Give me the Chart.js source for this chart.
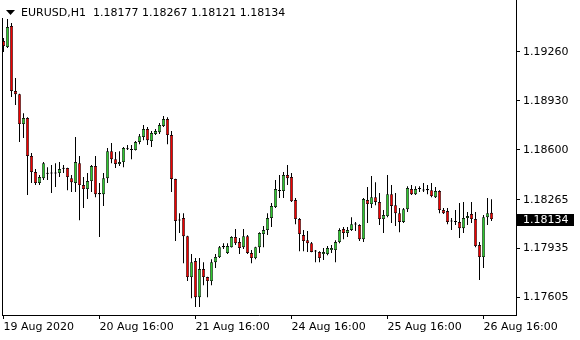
<!DOCTYPE html>
<html>
<head>
<meta charset="utf-8">
<script src="https://cdn.jsdelivr.net/npm/chart.js@4.4.0/dist/chart.umd.min.js"></script>
<style>
  html, body { margin: 0; padding: 0; background: #fff; }
  #wrap { width: 580px; height: 340px; }
</style>
</head>
<body>
<div id="wrap"><canvas id="chart" width="580" height="340"></canvas></div>
<script>
const SYMBOL = 'EURUSD,H1';

// hourly bars, 19 Aug 16:00 .. 26 Aug 18:00
const OPEN = [
  1.19334, 1.19293, 1.19435, 1.18997, 1.18976, 1.18774, 1.18815, 1.18559, 1.18451, 1.18377,
  1.18410, 1.18444, 1.18442, 1.18444, 1.18444, 1.18474, 1.18478, 1.18410, 1.18377, 1.18511,
  1.18363, 1.18336, 1.18390, 1.18491, 1.18309, 1.18302, 1.18410, 1.18592, 1.18538, 1.18505,
  1.18518, 1.18604, 1.18603, 1.18599, 1.18653, 1.18687, 1.18741, 1.18660, 1.18707, 1.18720,
  1.18761, 1.18808, 1.18700, 1.18404, 1.18127, 1.18141, 1.18019, 1.17743, 1.17851, 1.17608,
  1.17797, 1.17743, 1.17716, 1.17844, 1.17878, 1.17945, 1.17905, 1.17945, 1.18013, 1.17979,
  1.17945, 1.18019, 1.17905, 1.17871, 1.17945, 1.18033, 1.18060, 1.18141, 1.18215, 1.18329,
  1.18323, 1.18431, 1.18417, 1.18262, 1.18134, 1.18026, 1.17992, 1.17972, 1.17918, 1.17912,
  1.17898, 1.17898, 1.17925, 1.17925, 1.17979, 1.18067, 1.18040, 1.18060, 1.18100, 1.18094,
  1.17999, 1.18262, 1.18235, 1.18282, 1.18249, 1.18134, 1.18154, 1.18302, 1.18228, 1.18174,
  1.18114, 1.18201, 1.18336, 1.18302, 1.18336, 1.18329, 1.18336, 1.18329, 1.18282, 1.18323,
  1.18195, 1.18188, 1.18121, 1.18114, 1.18114, 1.18073, 1.18141, 1.18168, 1.18134, 1.17959,
  1.17878, 1.18147, 1.18177
];
const HIGH = [
  1.19354, 1.19482, 1.19455, 1.19084, 1.18978, 1.18848, 1.18821, 1.18579, 1.18471, 1.18431,
  1.18518, 1.18484, 1.18498, 1.18511, 1.18518, 1.18498, 1.18480, 1.18431, 1.18687, 1.18559,
  1.18417, 1.18444, 1.18498, 1.18559, 1.18377, 1.18444, 1.18613, 1.18646, 1.18586, 1.18592,
  1.18619, 1.18633, 1.18633, 1.18660, 1.18707, 1.18768, 1.18754, 1.18727, 1.18741, 1.18781,
  1.18828, 1.18821, 1.18727, 1.18406, 1.18174, 1.18174, 1.18021, 1.17898, 1.17871, 1.17871,
  1.17844, 1.17745, 1.17864, 1.17898, 1.17952, 1.17972, 1.17972, 1.18019, 1.18067, 1.18006,
  1.18067, 1.18026, 1.17925, 1.17947, 1.18046, 1.18087, 1.18174, 1.18242, 1.18397, 1.18431,
  1.18451, 1.18498, 1.18444, 1.18276, 1.18141, 1.18060, 1.18053, 1.17979, 1.17925, 1.17918,
  1.17939, 1.17952, 1.17959, 1.17992, 1.18073, 1.18080, 1.18080, 1.18147, 1.18114, 1.18100,
  1.18276, 1.18350, 1.18424, 1.18383, 1.18309, 1.18195, 1.18431, 1.18363, 1.18309, 1.18208,
  1.18208, 1.18356, 1.18363, 1.18356, 1.18356, 1.18377, 1.18363, 1.18377, 1.18350, 1.18329,
  1.18208, 1.18208, 1.18141, 1.18195, 1.18242, 1.18249, 1.18181, 1.18249, 1.18181, 1.17979,
  1.18161, 1.18276, 1.18267
];
const LOW = [
  1.19260, 1.19287, 1.18956, 1.18902, 1.18653, 1.18680, 1.18296, 1.18377, 1.18363, 1.18363,
  1.18397, 1.18397, 1.18309, 1.18350, 1.18417, 1.18444, 1.18329, 1.18316, 1.18316, 1.18127,
  1.18208, 1.18269, 1.18316, 1.18282, 1.18013, 1.18222, 1.18377, 1.18511, 1.18478, 1.18491,
  1.18484, 1.18599, 1.18538, 1.18597, 1.18639, 1.18666, 1.18633, 1.18619, 1.18700, 1.18707,
  1.18754, 1.18639, 1.18316, 1.17986, 1.18040, 1.17837, 1.17716, 1.17601, 1.17541, 1.17541,
  1.17689, 1.17608, 1.17689, 1.17804, 1.17871, 1.17932, 1.17898, 1.17943, 1.17959, 1.17898,
  1.17932, 1.17898, 1.17837, 1.17864, 1.17905, 1.17945, 1.18026, 1.18080, 1.18208, 1.18276,
  1.18276, 1.18363, 1.18249, 1.18100, 1.17918, 1.17918, 1.17912, 1.17910, 1.17844, 1.17844,
  1.17858, 1.17891, 1.17905, 1.17844, 1.17972, 1.17999, 1.18013, 1.18053, 1.18053, 1.17986,
  1.17979, 1.18107, 1.18208, 1.18228, 1.18094, 1.18040, 1.18147, 1.18107, 1.18087, 1.18046,
  1.18107, 1.18181, 1.18296, 1.18296, 1.18316, 1.18316, 1.18302, 1.18282, 1.18276, 1.18174,
  1.18168, 1.18100, 1.18060, 1.18094, 1.18006, 1.18040, 1.18094, 1.18107, 1.17945, 1.17723,
  1.17804, 1.18094, 1.18121
];
const CLOSE = [
  1.19300, 1.19428, 1.18997, 1.18976, 1.18774, 1.18815, 1.18559, 1.18451, 1.18377, 1.18417,
  1.18511, 1.18440, 1.18446, 1.18441, 1.18471, 1.18478, 1.18417, 1.18383, 1.18518, 1.18363,
  1.18336, 1.18390, 1.18491, 1.18302, 1.18302, 1.18410, 1.18592, 1.18538, 1.18505, 1.18518,
  1.18613, 1.18608, 1.18599, 1.18653, 1.18693, 1.18741, 1.18666, 1.18714, 1.18727, 1.18768,
  1.18808, 1.18700, 1.18404, 1.18121, 1.18124, 1.18019, 1.17743, 1.17844, 1.17608, 1.17797,
  1.17743, 1.17716, 1.17844, 1.17878, 1.17945, 1.17952, 1.17952, 1.18013, 1.17972, 1.17939,
  1.18019, 1.17905, 1.17871, 1.17945, 1.18040, 1.18060, 1.18141, 1.18222, 1.18336, 1.18323,
  1.18431, 1.18410, 1.18255, 1.18134, 1.18033, 1.17986, 1.17972, 1.17912, 1.17915, 1.17871,
  1.17912, 1.17939, 1.17939, 1.17979, 1.18060, 1.18040, 1.18060, 1.18100, 1.18097, 1.17999,
  1.18269, 1.18235, 1.18282, 1.18249, 1.18134, 1.18161, 1.18302, 1.18222, 1.18174, 1.18114,
  1.18201, 1.18343, 1.18302, 1.18336, 1.18339, 1.18327, 1.18329, 1.18289, 1.18323, 1.18195,
  1.18174, 1.18114, 1.18117, 1.18117, 1.18073, 1.18141, 1.18154, 1.18134, 1.17952, 1.17878,
  1.18147, 1.18174, 1.18134
];

const X_TICK_BARS = [1, 25, 49, 73, 97, 121];
const X_TICK_LABELS = ['19 Aug 2020', '20 Aug 16:00', '21 Aug 16:00', '24 Aug 16:00', '25 Aug 16:00', '26 Aug 16:00'];
const Y_TICKS = [1.17605, 1.17935, 1.18265, 1.18600, 1.18930, 1.19260];
const Y_MIN = 1.174877;
const Y_MAX = 1.196104;
const X_MIN = 0.625;
const X_MAX = 129.125;

const BULL = '#30c830';
const BEAR = '#f00000';
const FONT = { family: 'DejaVu Sans', size: 11 };

const n = CLOSE.length;
const last = n - 1;

const bodies = CLOSE.map((c, i) => ({ x: i + 1, y: [OPEN[i], c] }));
const wicks = HIGH.map((h, i) => ({ x: i + 1, y: [LOW[i], h] }));
const bodyColors = CLOSE.map((c, i) => (c >= OPEN[i] ? BULL : BEAR));

const fmt = (v) => Number(v).toFixed(5);

// chart.js pads axes by half a label height; the terminal frame uses the full height
const noAxisPadding = (scale) => {
    scale.paddingTop = 0;
    scale.paddingBottom = 0;
    scale.paddingLeft = 0;
    scale.paddingRight = 0;
};

const terminalDecor = {
    id: 'terminalDecor',
    afterDraw(chart) {
        const { ctx, chartArea } = chart;
        const yScale = chart.scales.y;
        ctx.save();

        // left frame line
        ctx.strokeStyle = '#000';
        ctx.lineWidth = 1;
        ctx.beginPath();
        ctx.moveTo(chartArea.left + 0.5, chartArea.top);
        ctx.lineTo(chartArea.left + 0.5, chartArea.bottom + 0.5);
        ctx.stroke();

        // header
        ctx.fillStyle = '#fff';
        ctx.fillRect(0, 0, 295, 18);
        ctx.fillStyle = '#000';
        ctx.beginPath();
        ctx.moveTo(6, 10);
        ctx.lineTo(15, 10);
        ctx.lineTo(10.5, 15);
        ctx.closePath();
        ctx.fill();
        ctx.font = FONT.size + 'px ' + FONT.family;
        ctx.textBaseline = 'alphabetic';
        ctx.textAlign = 'left';
        const header = SYMBOL + '  ' + [OPEN[last], HIGH[last], LOW[last], CLOSE[last]].map(fmt).join(' ');
        ctx.fillText(header, 21, 16);

        // last price marker
        const yc = Math.round(yScale.getPixelForValue(CLOSE[last]));
        ctx.fillStyle = '#000';
        ctx.fillRect(chartArea.right + 1, yc - 5, 57, 12);
        ctx.fillStyle = '#fff';
        ctx.textBaseline = 'middle';
        ctx.fillText(fmt(CLOSE[last]), chartArea.right + 7, yc + 1);
        ctx.restore();
    },
};

new Chart(document.getElementById('chart'), {
    type: 'bar',
    data: {
        datasets: [
            {
                data: bodies,
                backgroundColor: bodyColors,
                borderColor: '#000',
                borderWidth: 0.7,
                borderSkipped: false,
                barThickness: 3,
                minBarLength: 1,
                inflateAmount: 0,
                grouped: false,
            },
            {
                data: wicks,
                backgroundColor: '#000',
                borderWidth: 0,
                barThickness: 1,
                inflateAmount: 0,
                grouped: false,
            },
        ],
    },
    options: {
        responsive: false,
        animation: false,
        events: [],
        layout: { padding: { left: 2, right: 0, top: 0, bottom: 0 } },
        plugins: {
            legend: { display: false },
            tooltip: { enabled: false },
        },
        scales: {
            x: {
                type: 'linear',
                min: X_MIN,
                max: X_MAX,
                offset: false,
                afterBuildTicks: (scale) => {
                    scale.ticks = X_TICK_BARS.map((v) => ({ value: v }));
                },
                afterFit: (scale) => {
                    scale.height = 25;
                    noAxisPadding(scale);
                },
                grid: {
                    offset: false,
                    drawOnChartArea: false,
                    drawTicks: true,
                    tickLength: 4,
                    color: '#000',
                },
                border: { display: true, color: '#000' },
                ticks: {
                    autoSkip: false,
                    maxRotation: 0,
                    align: 'start',
                    padding: 2,
                    color: '#000',
                    font: FONT,
                    callback: (value, index) => X_TICK_LABELS[index],
                },
            },
            y: {
                type: 'linear',
                position: 'right',
                min: Y_MIN,
                max: Y_MAX,
                afterBuildTicks: (scale) => {
                    scale.ticks = Y_TICKS.map((v) => ({ value: v }));
                },
                afterFit: (scale) => {
                    scale.width = 64;
                    noAxisPadding(scale);
                },
                grid: {
                    drawOnChartArea: false,
                    drawTicks: true,
                    tickLength: 4,
                    color: '#000',
                },
                border: { display: true, color: '#000' },
                ticks: {
                    padding: 3,
                    color: '#000',
                    font: FONT,
                    callback: (value) => fmt(value),
                },
            },
        },
    },
    plugins: [terminalDecor],
});
</script>
</body>
</html>
